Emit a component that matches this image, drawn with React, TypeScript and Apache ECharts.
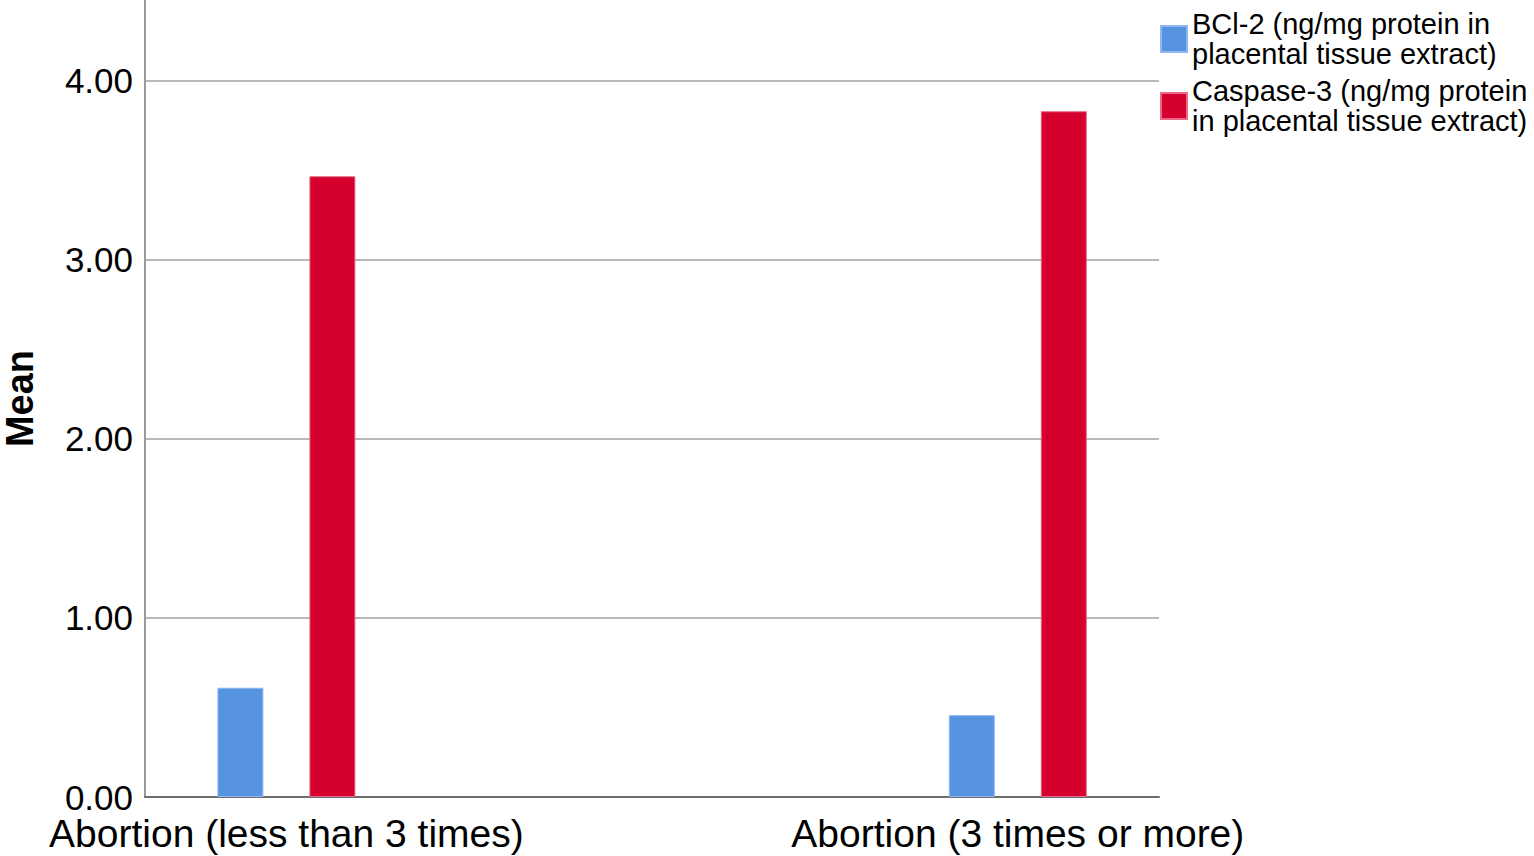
import React, { useEffect, useRef } from "react";
import * as echarts from "echarts";

const categories = ["Abortion (less than 3 times)", "Abortion (3 times or more)"];
const seriesNames = [
  "BCl-2 (ng/mg protein in\nplacental tissue extract)",
  "Caspase-3 (ng/mg protein\nin placental tissue extract)",
];
const bcl2Values = [0.61, 0.457];
const caspase3Values = [3.466, 3.829];
const yTicks = [0, 1, 2, 3, 4];
const yMax = 4.45;

const FONT = "'Liberation Sans', Arial, sans-serif";

export default function App() {
  const ref = useRef<HTMLDivElement>(null);
  useEffect(() => {
    if (!ref.current) return;
    const chart = echarts.init(ref.current, null, { renderer: "svg" });
    chart.setOption({
      animation: false,
      backgroundColor: "#ffffff",
      textStyle: { fontFamily: FONT },
      grid: [
        { left: 145, top: 0, width: 1014, height: 797, containLabel: false, outerBoundsMode: "none" },
        { left: 286.4, top: 0, width: 731.4, height: 797, containLabel: false, outerBoundsMode: "none" },
      ],
      legend: {
        orient: "vertical",
        left: 1160,
        top: 9,
        padding: 0,
        itemWidth: 26,
        itemHeight: 26,
        itemGap: 7,
        icon: "rect",
        selectedMode: false,
        textStyle: { fontFamily: FONT, fontSize: 29, lineHeight: 30, color: "#000" },
        data: seriesNames,
      },
      xAxis: [
        {
          gridIndex: 0,
          type: "value",
          min: 0,
          max: 1,
          axisLine: { show: true, onZero: false, lineStyle: { color: "#6e6e6e", width: 2 } },
          axisTick: { show: false },
          splitLine: { show: false },
          axisLabel: { show: false },
        },
        {
          gridIndex: 1,
          type: "category",
          boundaryGap: false,
          data: categories,
          axisLine: { show: false },
          axisTick: { show: false },
          splitLine: { show: false },
          axisLabel: {
            show: true,
            interval: 0,
            fontSize: 39,
            lineHeight: 34,
            color: "#000",
            margin: 19,
            fontFamily: FONT,
          },
        },
      ],
      yAxis: [
        {
          gridIndex: 0,
          type: "value",
          min: 0,
          max: yMax,
          name: "Mean",
          nameLocation: "middle",
          nameGap: 106,
          nameTextStyle: { fontSize: 38, fontWeight: "bold", color: "#000", fontFamily: FONT },
          axisLine: { show: true, onZero: false, lineStyle: { color: "#9a9a9a", width: 2 } },
          axisTick: { show: false, customValues: yTicks },
          axisLabel: {
            customValues: yTicks,
            formatter: (v: number) => v.toFixed(2),
            fontSize: 35,
            lineHeight: 28,
            color: "#000",
            margin: 12,
            fontFamily: FONT,
          },
          splitLine: { show: true, lineStyle: { color: "#b8b8b8", width: 2 } },
        },
        {
          gridIndex: 1,
          type: "value",
          min: 0,
          max: yMax,
          show: false,
          splitLine: { show: false },
        },
      ],
      series: [
        {
          name: seriesNames[0],
          type: "bar",
          xAxisIndex: 1,
          yAxisIndex: 1,
          clip: false,
          barWidth: 46,
          barGap: "100%",
          itemStyle: { color: "#5694e2", borderColor: "#8fb8ee", borderWidth: 1 },
          data: bcl2Values,
        },
        {
          name: seriesNames[1],
          type: "bar",
          xAxisIndex: 1,
          yAxisIndex: 1,
          clip: false,
          barWidth: 46,
          barGap: "100%",
          itemStyle: { color: "#d6002f", borderColor: "#e86a86", borderWidth: 1 },
          data: caspase3Values,
        },
      ],
    });
    return () => chart.dispose();
  }, []);
  return (
    <div
      ref={ref}
      style={{ position: "fixed", left: 0, top: 0, width: 1534, height: 856, background: "#fff" }}
    />
  );
}
